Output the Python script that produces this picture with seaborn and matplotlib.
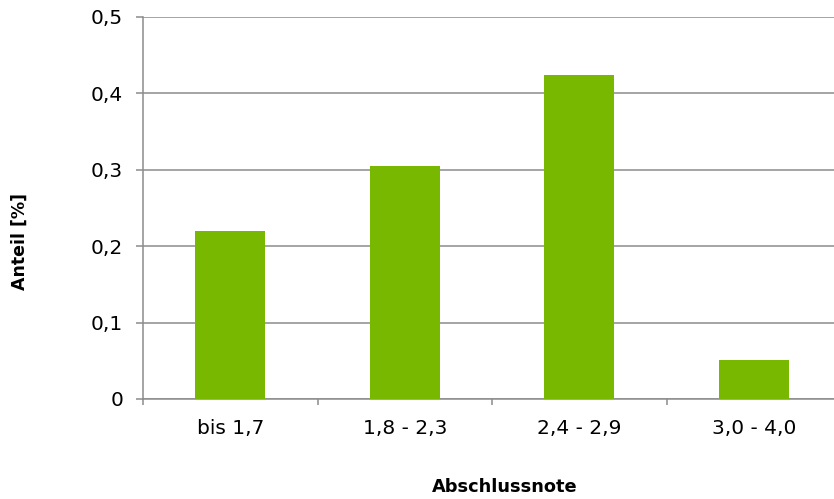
import matplotlib
matplotlib.use('Agg')
import matplotlib.pyplot as plt
import seaborn as sns
import pandas as pd

# Daten: Anteil je Notenbereich
kategorien = ['bis 1,7', '1,8 - 2,3', '2,4 - 2,9', '3,0 - 4,0']
anteile = [0.22, 0.305, 0.424, 0.051]
y_ticks = [0, 0.1, 0.2, 0.3, 0.4, 0.5]
y_labels = ['0', '0,1', '0,2', '0,3', '0,4', '0,5']

df = pd.DataFrame({'Abschlussnote': kategorien, 'Anteil': anteile})

sns.set_style('white')
plt.rcParams['font.family'] = ['DejaVu Sans']
plt.rcParams['text.color'] = 'black'

fig = plt.figure(figsize=(8.34, 4.99), dpi=100)
ax = fig.add_axes([143 / 834, 1 - 399 / 499, 698 / 834, 382 / 499])

sns.barplot(data=df, x='Abschlussnote', y='Anteil', color='#78b800',
            width=0.4, saturation=1, linewidth=0, ax=ax, zorder=3)

grau = '#8c8c8c'
ax.set_ylim(0, 0.5)
ax.set_xlim(-0.5, 3.5)
ax.set_yticks(y_ticks)
ax.set_yticklabels(y_labels, fontsize=14.5, color='black')
ax.yaxis.grid(True, color=grau, linewidth=1.1, zorder=0)
ax.tick_params(axis='y', length=5, width=1.1, color=grau, pad=9.4, left=True)

# Kategorien mittig, Striche an den Grenzen
ax.set_xticks(range(len(kategorien)))
ax.set_xticklabels(kategorien, fontsize=14.5, color='black')
ax.tick_params(axis='x', which='major', length=0, pad=14.5)
ax.set_xticks([-0.5, 0.5, 1.5, 2.5, 3.5], minor=True)
ax.tick_params(axis='x', which='minor', length=4.3, width=1.1, color=grau, bottom=True)

for s in ['top', 'right']:
    ax.spines[s].set_visible(False)
for s in ['left', 'bottom']:
    ax.spines[s].set_color(grau)
    ax.spines[s].set_linewidth(1.1)

ax.set_xlabel('Abschlussnote', fontsize=12.8, fontweight='bold', color='black')
ax.set_ylabel('Anteil [%]', fontsize=12.5, fontweight='bold', color='black')
ax.xaxis.set_label_coords(505 / 834, 1 - 487 / 499, transform=fig.transFigure)
ax.yaxis.set_label_coords(20 / 834, 1 - 242 / 499, transform=fig.transFigure)
ax.xaxis.label.set_va('center')
ax.yaxis.label.set_va('center')

fig.savefig('out.png', dpi=100)
